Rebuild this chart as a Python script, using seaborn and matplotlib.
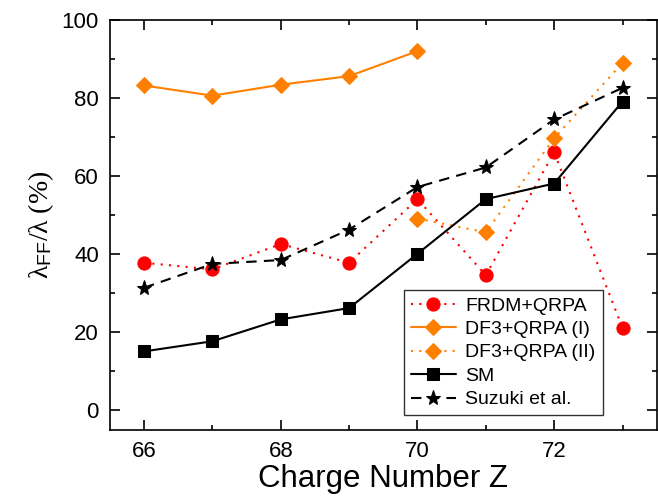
import matplotlib
matplotlib.use("Agg")
import matplotlib.pyplot as plt
import seaborn as sns
from matplotlib.ticker import MultipleLocator

sns.set_theme(style="ticks")
plt.rcParams['font.family'] = ['Liberation Sans', 'DejaVu Sans']
plt.rcParams['mathtext.fontset'] = 'custom'
plt.rcParams['mathtext.rm'] = 'Liberation Serif'
plt.rcParams['mathtext.sf'] = 'Liberation Sans'
plt.rcParams['mathtext.it'] = 'Liberation Serif:italic'
plt.rcParams['text.color'] = 'black'
plt.rcParams['axes.labelcolor'] = 'black'
plt.rcParams['xtick.color'] = 'black'
plt.rcParams['ytick.color'] = 'black'

z_all = [66, 67, 68, 69, 70, 71, 72, 73]
frdm = [37.7, 36.0, 42.5, 37.7, 54.0, 34.5, 66.0, 21.0]
z_df3_1 = [66, 67, 68, 69, 70]
df3_1 = [83.1, 80.5, 83.3, 85.5, 91.9]
z_df3_2 = [70, 71, 72, 73]
df3_2 = [49.0, 45.5, 69.6, 88.9]
sm = [15.0, 17.6, 23.2, 26.1, 40.0, 54.0, 58.0, 79.0]
suzuki = [31.3, 37.4, 38.4, 46.2, 57.1, 62.1, 74.4, 82.5]

red = '#FF0000'
orange = '#FF8000'

fig = plt.figure(figsize=(6.58, 5.0), dpi=100)
ax = fig.add_axes([0.167, 0.141, 0.831, 0.820])

lw = 1.5
sns.lineplot(x=z_all, y=frdm, ax=ax, color=red, linestyle=(0, (1, 3)), lw=lw,
             marker='o', markersize=9.5, markeredgecolor=red, label='FRDM+QRPA')
sns.lineplot(x=z_df3_1, y=df3_1, ax=ax, color=orange, linestyle='-', lw=lw,
             marker='D', markersize=8, markeredgecolor=orange, label='DF3+QRPA (I)')
sns.lineplot(x=z_df3_2, y=df3_2, ax=ax, color=orange, linestyle=(0, (1, 3)), lw=lw,
             marker='D', markersize=8, markeredgecolor=orange, label='DF3+QRPA (II)')
sns.lineplot(x=z_all, y=sm, ax=ax, color='black', linestyle='-', lw=lw,
             marker='s', markersize=9, markeredgecolor='black', label='SM')
sns.lineplot(x=z_all, y=suzuki, ax=ax, color='black', linestyle=(0, (5, 3.5)), lw=lw,
             marker='*', markersize=11, markeredgecolor='black', label='Suzuki et al.')

ax.set_xlim(65.5, 73.5)
ax.set_ylim(-5, 100)
ax.xaxis.set_major_locator(MultipleLocator(2))
ax.xaxis.set_minor_locator(MultipleLocator(1))
ax.yaxis.set_major_locator(MultipleLocator(20))
ax.yaxis.set_minor_locator(MultipleLocator(10))
ax.tick_params(which='both', direction='in', top=True, right=True,
               width=1.2, colors='black', labelsize=16)
ax.tick_params(which='major', length=7)
ax.tick_params(which='minor', length=3.5)
ax.tick_params(axis='x', which='major', pad=8)
ax.tick_params(axis='y', which='major', pad=8)
for s in ax.spines.values():
    s.set_linewidth(1.2)
    s.set_color('black')

ax.set_xlabel('Charge Number Z', fontsize=22.5, labelpad=2, color='black')
ax.set_ylabel(r'$\mathrm{\lambda}_{\mathsf{FF}}/\mathrm{\lambda}\ \mathrm{(\%)}$',
              fontsize=20, labelpad=4, color='black')

leg = ax.legend(loc='lower right', bbox_to_anchor=(0.901, 0.035), fontsize=14,
                frameon=True, fancybox=False, edgecolor='black',
                handlelength=2.3, borderpad=0.35, labelspacing=0.3,
                handletextpad=0.5, borderaxespad=0)
leg.get_frame().set_linewidth(1.0)
for t in leg.get_texts():
    t.set_color('black')

fig.savefig('out.png', dpi=100)
